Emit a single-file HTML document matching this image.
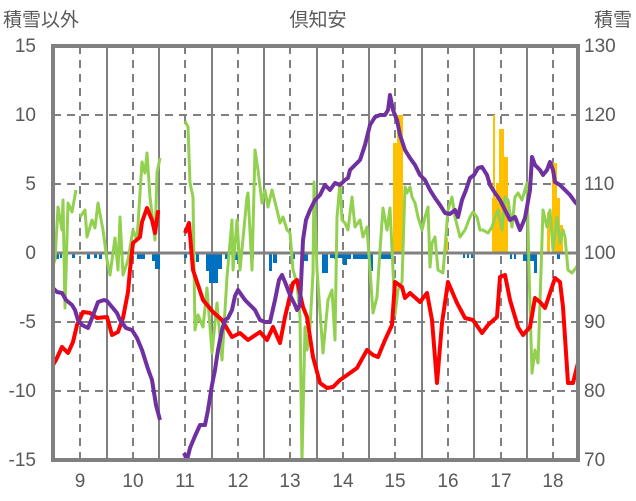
<!DOCTYPE html>
<html><head><meta charset="utf-8"><style>
html,body{margin:0;padding:0;background:#fff;}
svg{display:block;}
text{font-family:"Liberation Sans","Noto Sans CJK JP",sans-serif;fill:#595959;}
</style></head><body>
<svg width="636" height="501" viewBox="0 0 636 501" xmlns="http://www.w3.org/2000/svg">
<rect width="636" height="501" fill="#fff"/>
<!-- horizontal dashed grid -->
<g stroke="#808080" stroke-width="2" stroke-dasharray="8,6">
<line x1="53" y1="115" x2="578" y2="115"/><line x1="53" y1="184" x2="578" y2="184"/>
<line x1="53" y1="322" x2="578" y2="322"/><line x1="53" y1="391" x2="578" y2="391"/>
<line x1="80" y1="46" x2="80" y2="460"/><line x1="133" y1="46" x2="133" y2="460"/>
<line x1="185" y1="46" x2="185" y2="460"/><line x1="238" y1="46" x2="238" y2="460"/>
<line x1="290" y1="46" x2="290" y2="460"/><line x1="343" y1="46" x2="343" y2="460"/>
<line x1="395" y1="46" x2="395" y2="460"/><line x1="448" y1="46" x2="448" y2="460"/>
<line x1="501" y1="46" x2="501" y2="460"/><line x1="553" y1="46" x2="553" y2="460"/>
</g>
<g stroke="#808080" stroke-width="2">
<line x1="107" y1="46" x2="107" y2="460"/><line x1="159" y1="46" x2="159" y2="460"/>
<line x1="212" y1="46" x2="212" y2="460"/><line x1="264" y1="46" x2="264" y2="460"/>
<line x1="317" y1="46" x2="317" y2="460"/><line x1="369" y1="46" x2="369" y2="460"/>
<line x1="422" y1="46" x2="422" y2="460"/><line x1="474" y1="46" x2="474" y2="460"/>
<line x1="527" y1="46" x2="527" y2="460"/>
</g>
<!-- orange bars -->
<g fill="#FFC000">
<rect x="393" y="143" width="5" height="110"/><rect x="397" y="115" width="6" height="138"/>
<rect x="445" y="238" width="3" height="15"/>
<rect x="492" y="198" width="4" height="55"/><rect x="493" y="115" width="2" height="138"/>
<rect x="496" y="183" width="4" height="70"/><rect x="499" y="129" width="5" height="124"/>
<rect x="504" y="157" width="4" height="96"/>
<rect x="547" y="212" width="3" height="41"/><rect x="552" y="163" width="5" height="90"/>
<rect x="556" y="198" width="4" height="55"/><rect x="559" y="225" width="4" height="28"/>
</g>
<!-- blue bars -->
<g fill="#0070C0">
<rect x="56" y="253" width="3" height="6"/><rect x="60" y="253" width="2" height="5"/>
<rect x="72" y="253" width="3" height="5"/><rect x="87" y="253" width="3" height="6"/>
<rect x="94" y="253" width="3" height="5"/><rect x="99" y="253" width="3" height="6"/>
<rect x="137" y="253" width="8" height="6"/><rect x="152" y="253" width="4" height="8"/>
<rect x="155" y="253" width="5" height="16"/>
<rect x="184" y="253" width="3" height="5"/><rect x="196" y="253" width="3" height="9"/>
<rect x="206" y="253" width="4" height="18"/><rect x="209" y="253" width="9" height="30"/>
<rect x="217" y="253" width="5" height="16"/><rect x="225" y="253" width="3" height="6"/>
<rect x="235" y="253" width="5" height="7"/><rect x="252" y="253" width="2" height="5"/>
<rect x="269" y="253" width="3" height="18"/><rect x="273" y="253" width="4" height="10"/>
<rect x="292" y="253" width="3" height="6"/><rect x="302" y="253" width="6" height="8"/>
<rect x="322" y="253" width="6" height="20"/><rect x="334" y="253" width="3" height="6"/>
<rect x="330" y="253" width="13" height="5"/><rect x="343" y="253" width="4" height="12"/>
<rect x="347" y="253" width="4" height="6"/>
<rect x="353" y="253" width="20" height="6"/><rect x="370" y="253" width="3" height="18"/>
<rect x="380" y="253" width="12" height="6"/>
<rect x="463" y="253" width="2" height="5"/><rect x="467" y="253" width="2" height="5"/><rect x="471" y="253" width="2" height="5"/>
<rect x="510" y="253" width="2" height="6"/><rect x="514" y="253" width="2" height="6"/>
<rect x="523" y="253" width="13" height="8"/><rect x="534" y="253" width="3" height="20"/>
<rect x="557" y="253" width="3" height="6"/>
</g>
<line x1="53" y1="253" x2="578" y2="253" stroke="#808080" stroke-width="3"/>
<!-- green -->
<g fill="none" stroke="#92D050" stroke-width="3" stroke-linejoin="round">
<polyline points="53,265 55,260 58,207 62,230 63,200 65,308 68,203 72,212 76,190"/>
<polyline points="80,217 85,210 87,237 92,220 95,228 98,203 103,230 107,260 110,275 115,238 118,270 120,217 123,275 128,260 133,230 137,240 142,162 145,173 147,153 150,197 155,240 157,173 160,158"/>
<polyline points="185,121 188,127 190,183 193,197 195,330 198,315 203,327 207,288 212,353 217,303 222,360 227,277 232,220 233,270 237,220 240,270 247,197 248,193 252,270 255,150 258,170 262,203 265,190 268,207 272,190 277,210 280,223 283,217 287,230 290,233 293,270 297,283 300,317 302,460 305,327 307,350 310,327 313,273 314,182 317,270 323,353 328,300 332,290 335,340 337,217 340,183 342,220 345,223 348,230 352,197 355,227 360,220 363,237 367,227 370,270 373,313 377,297 380,250 383,208 387,230 390,208 393,270 395,315 398,290 402,282 405,187 407,193 410,187 412,197 415,203 418,217 422,230 425,217 428,207 430,267 432,243 435,237 438,270 443,273 448,210 452,197 455,217 460,237 465,230 470,217 473,212 477,217 480,230 483,230 488,233 492,227 495,217 498,210 502,230 505,197 508,200 512,227 515,197 518,193 522,200 527,183 529,270 532,373 535,350 538,363 543,210 547,227 550,210 553,250 557,217 560,243 563,230 565,237 568,270 572,273 578,265"/>
</g>
<!-- red -->
<g fill="none" stroke="#FF0000" stroke-width="4" stroke-linejoin="round">
<polyline points="53,365 56,360 62,347 68,353 73,342 77,325 83,312 90,313 97,318 107,317 112,335 118,332 123,318 128,292 130,270 133,243 140,237 142,222 147,208 152,220 155,233 158,212 160,212"/>
<polyline points="185,233 189,223 193,270 203,300 213,312 222,320 232,337 240,333 248,340 260,332 267,340 273,327 280,343 285,317 293,283 297,280 303,307 307,317 313,357 320,383 327,388 333,387 340,380 350,373 357,368 367,350 373,355 378,357 385,340 392,325 395,282 402,287 405,298 410,293 420,302 427,293 432,320 437,383 442,323 448,282 457,303 465,318 473,320 482,333 488,325 497,317 500,277 505,275 510,300 518,327 523,335 530,327 535,298 540,302 545,308 550,293 555,278 560,282 563,307 568,383 573,383 578,363"/>
</g>
<!-- purple -->
<g fill="none" stroke="#7030A0" stroke-width="4" stroke-linejoin="round">
<polyline points="53,288 57,292 62,293 66,300 72,305 75,310 78,320 82,325 88,328 92,318 98,302 104,300 107,301 112,307 117,313 120,320 126,328 132,330 137,338 142,350 148,369 152,380 156,405 160,420"/>
<polyline points="184,453 187,460 190,448 195,436 200,425 205,425 208,410 212,385 215,370 218,350 222,330 225,320 228,318 232,310 235,296 238,290 245,300 250,305 255,310 260,320 265,322 270,322 275,300 279,280 282,275 285,282 290,295 295,305 297,310 300,305 303,240 306,220 310,210 315,200 320,195 325,185 330,190 335,183 340,185 345,180 348,178 350,170 355,165 360,160 365,145 370,125 375,117 380,115 385,115 388,110 390,95 393,110 397,120 400,135 405,150 410,158 415,165 420,175 425,180 430,190 435,198 440,205 445,213 450,214 455,210 458,217 462,200 466,190 470,178 474,175 478,168 482,167 487,175 490,185 495,193 500,200 505,210 510,220 515,217 520,230 525,218 530,190 532,157 535,165 540,170 543,175 547,170 550,162 553,170 555,182 560,185 565,190 570,195 575,202 578,205"/>
</g>
<rect x="53" y="46" width="525" height="414" fill="none" stroke="#808080" stroke-width="4"/>
<!-- labels -->
<g font-size="19" text-anchor="end">
<text x="36" y="52">15</text><text x="36" y="121">10</text><text x="36" y="190">5</text>
<text x="36" y="259">0</text><text x="36" y="328">-5</text><text x="36" y="397">-10</text><text x="36" y="466">-15</text>
</g>
<g font-size="19" text-anchor="start">
<text x="584" y="52">130</text><text x="584" y="121">120</text><text x="584" y="190">110</text>
<text x="584" y="259">100</text><text x="584" y="328">90</text><text x="584" y="397">80</text><text x="584" y="466">70</text>
</g>
<g font-size="19" text-anchor="middle">
<text x="80" y="487">9</text><text x="133" y="487">10</text><text x="185" y="487">11</text>
<text x="238" y="487">12</text><text x="290" y="487">13</text><text x="343" y="487">14</text>
<text x="395" y="487">15</text><text x="448" y="487">16</text><text x="501" y="487">17</text><text x="553" y="487">18</text>
</g>
<text x="318" y="26" font-size="19" text-anchor="middle">倶知安</text>
<text x="3" y="26" font-size="19">積雪以外</text>
<text x="632" y="26" font-size="19" text-anchor="end">積雪</text>
</svg>
</body></html>
